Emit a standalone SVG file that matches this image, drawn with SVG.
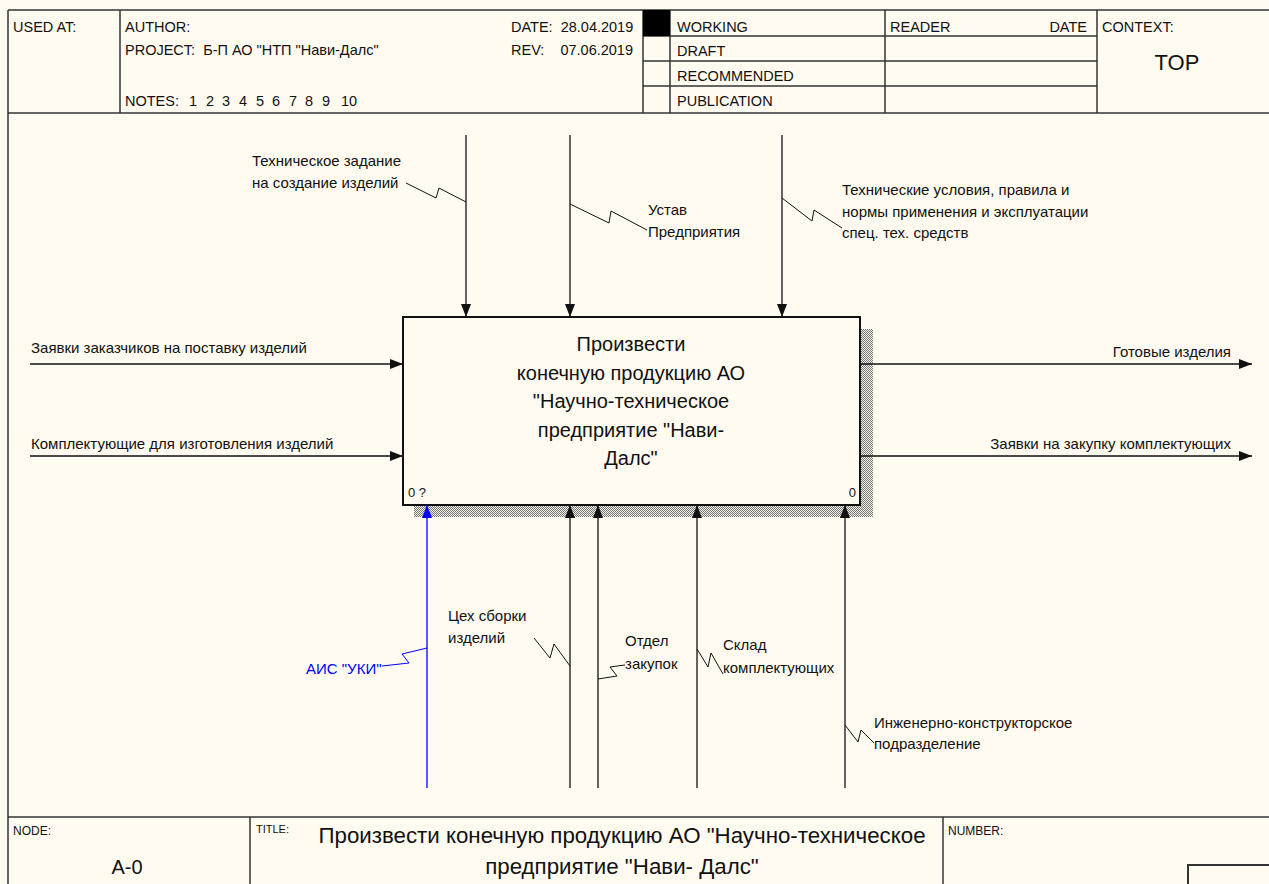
<svg xmlns="http://www.w3.org/2000/svg" width="1269" height="884" viewBox="0 0 1269 884">
<style>
text{font-family:"Liberation Sans",Arial,sans-serif;fill:#111;}
.h{font-size:14.5px;white-space:pre;}
.lb{font-size:15px;}
.bx{font-size:20px;text-anchor:middle;}
.fr{stroke:#333;stroke-width:1.5;fill:none;}
.ar{stroke:#111;stroke-width:1.3;fill:none;}
.sq{stroke:#111;stroke-width:1;fill:none;}
.blue{stroke:#0000ff;}
</style>
<defs>
<marker id="ah" markerUnits="userSpaceOnUse" markerWidth="13" markerHeight="10" refX="13" refY="5" orient="auto">
<path d="M0,0 L13,5 L0,10 z" fill="#111"/>
</marker>
<marker id="ahb" markerUnits="userSpaceOnUse" markerWidth="13" markerHeight="10" refX="13" refY="5" orient="auto">
<path d="M0,0 L13,5 L0,10 z" fill="#0000ff"/>
</marker>
<pattern id="hatch" width="2" height="2" patternUnits="userSpaceOnUse">
<rect width="2" height="2" fill="#f4f1e8"/>
<rect width="1" height="1" fill="#777"/>
<rect x="1" y="1" width="1" height="1" fill="#777"/>
</pattern>
</defs>
<rect width="1269" height="884" fill="#fffbf0"/>

<g id="frame">
<line class="fr" x1="8" y1="10" x2="1269" y2="10"/>
<line class="fr" x1="8" y1="10" x2="8" y2="884"/>
<line class="fr" x1="8" y1="113" x2="1269" y2="113"/>
<line class="fr" x1="120" y1="10" x2="120" y2="113"/>
<line class="fr" x1="643" y1="10" x2="643" y2="113"/>
<line class="fr" x1="670" y1="10" x2="670" y2="113"/>
<line class="fr" x1="885" y1="10" x2="885" y2="113"/>
<line class="fr" x1="1097" y1="10" x2="1097" y2="113"/>
<line class="fr" x1="643" y1="36" x2="1097" y2="36"/>
<line class="fr" x1="643" y1="61" x2="1097" y2="61"/>
<line class="fr" x1="643" y1="86" x2="1097" y2="86"/>
<rect x="643" y="10" width="27" height="26" fill="#000"/>
<text class="h" x="13" y="32">USED AT:</text>
<text class="h" x="125" y="32">AUTHOR:</text>
<text class="h" x="125" y="55">PROJECT:  Б-П АО "НТП "Нави-Далс"</text>
<text class="h" x="125" y="106">NOTES:<tspan x="189">1</tspan><tspan x="206">2</tspan><tspan x="222">3</tspan><tspan x="239">4</tspan><tspan x="256">5</tspan><tspan x="272">6</tspan><tspan x="289">7</tspan><tspan x="305">8</tspan><tspan x="322">9</tspan><tspan x="341">10</tspan></text>
<text class="h" x="511" y="32">DATE:  28.04.2019</text>
<text class="h" x="511" y="55">REV:    07.06.2019</text>
<text class="h" x="677" y="32">WORKING</text>
<text class="h" x="677" y="56">DRAFT</text>
<text class="h" x="677" y="81">RECOMMENDED</text>
<text class="h" x="677" y="106">PUBLICATION</text>
<text class="h" x="890" y="32">READER</text>
<text class="h" x="1087" y="32" text-anchor="end">DATE</text>
<text class="h" x="1102" y="32">CONTEXT:</text>
<text x="1177" y="70" font-size="22" text-anchor="middle">TOP</text>

<line class="fr" x1="8" y1="817" x2="1269" y2="817"/>
<line class="fr" x1="250" y1="817" x2="250" y2="884"/>
<line class="fr" x1="943" y1="817" x2="943" y2="884"/>
<rect x="1188" y="865" width="90" height="30" fill="none" stroke="#333" stroke-width="2"/>
<text x="13" y="835" font-size="12">NODE:</text>
<text x="256" y="833" font-size="11">TITLE:</text>
<text x="948" y="835" font-size="12">NUMBER:</text>
<text x="127" y="874" font-size="20" text-anchor="middle">A-0</text>
<text x="622" y="843" font-size="22.3" text-anchor="middle">Произвести конечную продукцию АО "Научно-техническое</text>
<text x="622" y="874" font-size="22.3" text-anchor="middle">предприятие "Нави- Далс"</text>
</g>

<g id="node-A0">
<rect x="861" y="329" width="12" height="188" fill="url(#hatch)"/>
<rect x="414" y="506" width="459" height="11" fill="url(#hatch)"/>
<rect x="403" y="317" width="457" height="188" fill="#fffbf0" stroke="#111" stroke-width="2"/>
<text class="bx" x="631" y="351">Произвести</text>
<text class="bx" x="631" y="379.5">конечную продукцию АО</text>
<text class="bx" x="631" y="408">"Научно-техническое</text>
<text class="bx" x="631" y="436.5">предприятие "Нави-</text>
<text class="bx" x="631" y="465">Далс"</text>
<text x="408" y="497" font-size="13">0 ?</text>
<text x="856" y="497" font-size="13" text-anchor="end">0</text>
</g>

<g id="connectors">
<line class="ar" x1="30" y1="364" x2="403" y2="364" marker-end="url(#ah)"/>
<line class="ar" x1="30" y1="456" x2="403" y2="456" marker-end="url(#ah)"/>
<line class="ar" x1="860" y1="364" x2="1252" y2="364" marker-end="url(#ah)"/>
<line class="ar" x1="860" y1="456" x2="1252" y2="456" marker-end="url(#ah)"/>
<line class="ar" x1="466" y1="135" x2="466" y2="317" marker-end="url(#ah)"/>
<line class="ar" x1="570" y1="135" x2="570" y2="317" marker-end="url(#ah)"/>
<line class="ar" x1="782" y1="135" x2="782" y2="317" marker-end="url(#ah)"/>
<line class="ar blue" x1="427" y1="788" x2="427" y2="505" marker-end="url(#ahb)"/>
<line class="ar" x1="570" y1="788" x2="570" y2="505" marker-end="url(#ah)"/>
<line class="ar" x1="598" y1="788" x2="598" y2="505" marker-end="url(#ah)"/>
<line class="ar" x1="697" y1="788" x2="697" y2="505" marker-end="url(#ah)"/>
<line class="ar" x1="845" y1="788" x2="845" y2="505" marker-end="url(#ah)"/>
<path class="sq" d="M406,183 L436,198 L439,188 L466,202"/>
<path class="sq" d="M570,204 L609,223 L611,211 L647,230"/>
<path class="sq" d="M782,198 L812,221 L814,210 L842,228"/>
<path class="sq blue" d="M382,666 L409,663 L402,654 L427,648"/>
<path class="sq" d="M534,638 L550,658 L554,644 L570,666"/>
<path class="sq" d="M598,679 L617,676 L610,667 L625,665"/>
<path class="sq" d="M697,649 L708,667 L711,653 L723,674"/>
<path class="sq" d="M845,725 L858,742 L861,730 L874,743"/>
</g>

<g id="labels">
<text class="lb" x="31" y="353">Заявки заказчиков на поставку изделий</text>
<text class="lb" x="31" y="449">Комплектующие для изготовления изделий</text>
<text class="lb" x="1231" y="357" text-anchor="end">Готовые изделия</text>
<text class="lb" x="1231" y="449" text-anchor="end">Заявки на закупку комплектующих</text>
<text class="lb" x="252" y="166">Техническое задание</text>
<text class="lb" x="252" y="188">на создание изделий</text>
<text class="lb" x="648" y="215">Устав</text>
<text class="lb" x="648" y="237">Предприятия</text>
<text class="lb" x="842" y="195">Технические условия, правила и</text>
<text class="lb" x="842" y="216.5">нормы применения и эксплуатации</text>
<text class="lb" x="842" y="238">спец. тех. средств</text>
<text class="lb" x="306" y="674" style="fill:#0000ff">АИС "УКИ"</text>
<text class="lb" x="448" y="621">Цех сборки</text>
<text class="lb" x="448" y="643">изделий</text>
<text class="lb" x="625" y="646">Отдел</text>
<text class="lb" x="625" y="669">закупок</text>
<text class="lb" x="723" y="650">Склад</text>
<text class="lb" x="723" y="673">комплектующих</text>
<text class="lb" x="874" y="727.5">Инженерно-конструкторское</text>
<text class="lb" x="874" y="749">подразделение</text>
</g>
</svg>
